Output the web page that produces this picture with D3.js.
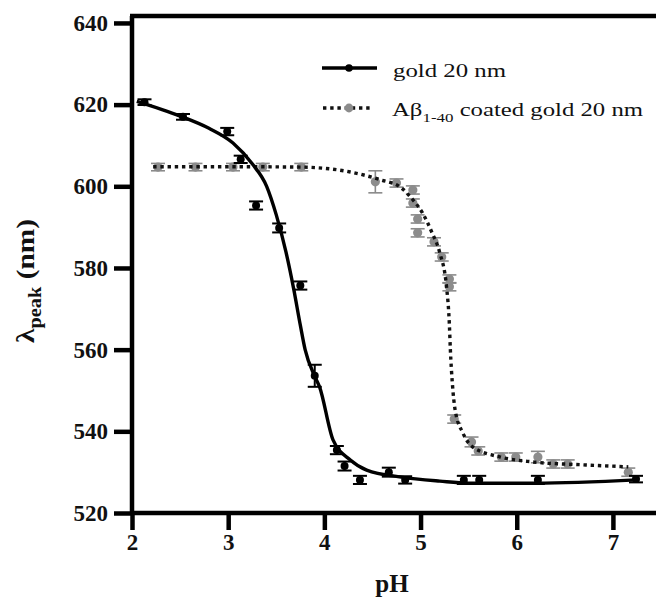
<!DOCTYPE html>
<html>
<head>
<meta charset="utf-8">
<script src="https://cdn.jsdelivr.net/npm/d3@7"></script>
<style>
  body { margin: 0; background: #fff; }
  svg { display: block; }
</style>
</head>
<body>
<svg width="656" height="598"></svg>
<script>
// gold 20 nm - measured points
var goldPH  = [2.13, 2.53, 2.99, 3.13, 3.29, 3.53, 3.75, 3.90, 4.13, 4.21, 4.37, 4.67, 4.84, 5.45, 5.61, 6.22, 7.24];
var goldNM  = [620.6, 617.0, 613.4, 606.6, 595.3, 589.8, 575.7, 553.6, 535.4, 531.5, 528.1, 530.0, 528.1, 528.1, 528.1, 528.1, 528.3];
var goldErr = [0.7, 0.7, 0.9, 0.9, 1.0, 1.1, 1.0, 2.7, 1.0, 1.1, 1.0, 1.1, 0.9, 1.0, 1.0, 1.0, 0.8];

// Abeta 1-40 coated gold 20 nm - measured points
var abPH  = [2.27, 2.66, 3.05, 3.36, 3.76, 4.53, 4.75, 4.92, 4.92, 4.97, 4.97, 5.14, 5.22, 5.30, 5.30, 5.35, 5.53, 5.60, 5.84, 5.99, 6.22, 6.38, 6.53, 7.16];
var abNM  = [604.7, 604.7, 604.7, 604.7, 604.7, 601.1, 600.8, 599.1, 595.9, 592.0, 588.6, 586.4, 582.7, 577.3, 575.4, 543.0, 537.4, 535.2, 533.7, 533.7, 533.7, 532.0, 532.0, 530.0];
var abErr = [0.9, 0.9, 0.9, 0.9, 0.9, 2.7, 1.0, 1.0, 1.0, 1.0, 1.0, 1.0, 1.0, 1.0, 1.0, 1.0, 1.2, 1.0, 1.0, 1.0, 1.4, 1.0, 1.0, 1.0];

// fitted curves
var goldFitPH = [2.05, 2.5, 2.8, 3.05, 3.25, 3.4, 3.5, 3.6, 3.68, 3.75, 3.8, 3.9, 3.95, 4.09, 4.27, 4.44, 4.8, 5.2, 5.5, 6.2, 7.25];
var goldFitNM = [620.8, 617.2, 614.2, 610.6, 605.5, 600, 593, 584, 575, 566, 560, 553.5, 550.9, 537.9, 533, 530.5, 528.8, 527.8, 527.3, 527.3, 528.1];
var abFitPH = [2.22, 3.0, 3.75, 4.27, 4.58, 4.79, 4.92, 5.02, 5.12, 5.2, 5.27, 5.3, 5.31, 5.33, 5.36, 5.44, 5.54, 5.83, 6.17, 6.69, 7.16];
var abFitNM = [604.8, 604.8, 604.7, 603.5, 601.6, 599.8, 596.7, 593.5, 588.6, 583.7, 575.4, 566, 560, 552, 545.2, 539.6, 536.2, 533.7, 532.5, 531.8, 531.3];

var xTicks = [2, 3, 4, 5, 6, 7];
var yTicks = [520, 540, 560, 580, 600, 620, 640];

var serif = "Liberation Serif";

var svg = d3.select("svg");

var x = d3.scaleLinear().domain([2, 7.5]).range([132, 661]);
var y = d3.scaleLinear().domain([520, 641.7]).range([513, 16]);

var zip = function(a, b, e) {
  return a.map(function(v, i) { return {x: v, y: b[i], e: e ? e[i] : 0}; });
};
var gold = zip(goldPH, goldNM, goldErr);
var ab = zip(abPH, abNM, abErr);

var line = d3.line()
  .x(function(d) { return x(d.x); })
  .y(function(d) { return y(d.y); })
  .curve(d3.curveMonotoneX);

// axes
var xAxis = svg.append("g")
  .attr("transform", "translate(0," + y(520) + ")")
  .call(d3.axisBottom(x).tickValues(xTicks).tickSize(17).tickPadding(4).tickFormat(d3.format("d")));
var yAxis = svg.append("g")
  .attr("transform", "translate(" + x(2) + ",0)")
  .call(d3.axisLeft(y).tickValues(yTicks).tickSize(18).tickPadding(6).tickFormat(d3.format("d")));

[xAxis, yAxis].forEach(function(g) {
  g.attr("font-family", serif);
  g.select(".domain").attr("stroke", "#000").attr("stroke-width", 4.5);
  g.selectAll(".tick line").attr("stroke", "#000").attr("stroke-width", 4.5);
  g.selectAll(".tick text")
    .attr("fill", "#111")
    .attr("font-family", serif)
    .attr("font-weight", "bold")
    .attr("font-size", 23);
});
xAxis.select(".domain").attr("d", "M" + x(2) + ",0H" + x(7.5));
yAxis.select(".domain").attr("d", "M0," + y(520) + "V" + y(641.7));

// top frame line
svg.append("line")
  .attr("x1", x(2) - 2).attr("x2", x(7.5))
  .attr("y1", y(641.7)).attr("y2", y(641.7))
  .attr("stroke", "#000").attr("stroke-width", 4.5);

function errorBars(data, color, width) {
  var g = svg.append("g").attr("stroke", color).attr("stroke-width", width);
  g.selectAll(".v").data(data).enter().append("line")
    .attr("x1", function(d) { return x(d.x); })
    .attr("x2", function(d) { return x(d.x); })
    .attr("y1", function(d) { return y(d.y - d.e); })
    .attr("y2", function(d) { return y(d.y + d.e); });
  g.selectAll(".t").data(data).enter().append("line")
    .attr("x1", function(d) { return x(d.x) - 7; })
    .attr("x2", function(d) { return x(d.x) + 7; })
    .attr("y1", function(d) { return y(d.y + d.e); })
    .attr("y2", function(d) { return y(d.y + d.e); });
  g.selectAll(".b").data(data).enter().append("line")
    .attr("x1", function(d) { return x(d.x) - 7; })
    .attr("x2", function(d) { return x(d.x) + 7; })
    .attr("y1", function(d) { return y(d.y - d.e); })
    .attr("y2", function(d) { return y(d.y - d.e); });
}

// grey series under the curves
errorBars(ab, "#8a8a8a", 1.6);
svg.append("g").selectAll("circle")
  .data(ab)
  .enter().append("circle")
  .attr("cx", function(d) { return x(d.x); })
  .attr("cy", function(d) { return y(d.y); })
  .attr("r", 4.6)
  .attr("fill", "#8c8c8c");

svg.append("path")
  .datum(zip(abFitPH, abFitNM))
  .attr("d", line)
  .attr("fill", "none")
  .attr("stroke", "#111")
  .attr("stroke-width", 3.4)
  .attr("stroke-dasharray", "3.4,3.8");

svg.append("path")
  .datum(zip(goldFitPH, goldFitNM))
  .attr("d", line)
  .attr("fill", "none")
  .attr("stroke", "#000")
  .attr("stroke-width", 3.4);

errorBars(gold, "#000", 2);
svg.append("g").selectAll("circle")
  .data(gold)
  .enter().append("circle")
  .attr("cx", function(d) { return x(d.x); })
  .attr("cy", function(d) { return y(d.y); })
  .attr("r", 4)
  .attr("fill", "#000");

// legend
var leg = svg.append("g").attr("font-family", serif);
leg.append("line").attr("x1", 322).attr("x2", 377).attr("y1", 68).attr("y2", 68)
  .attr("stroke", "#000").attr("stroke-width", 3.4);
leg.append("circle").attr("cx", 349).attr("cy", 68).attr("r", 3.8).attr("fill", "#000");
leg.append("text").attr("x", 393).attr("y", 77)
  .attr("textLength", 113).attr("lengthAdjust", "spacingAndGlyphs")
  .attr("font-family", serif)
  .attr("font-size", 19).attr("fill", "#111")
  .text("gold 20 nm");

leg.append("line").attr("x1", 323).attr("x2", 372).attr("y1", 108).attr("y2", 108)
  .attr("stroke", "#111").attr("stroke-width", 3.4).attr("stroke-dasharray", "3.4,3.8");
leg.append("circle").attr("cx", 349).attr("cy", 108).attr("r", 4.4).attr("fill", "#8c8c8c");
var t2 = leg.append("text").attr("x", 392).attr("y", 116)
  .attr("textLength", 251).attr("lengthAdjust", "spacingAndGlyphs")
  .attr("font-family", serif)
  .attr("font-size", 19).attr("fill", "#111");
t2.append("tspan").text("Aβ");
t2.append("tspan").attr("dy", 6).attr("font-size", 13).text("1-40");
t2.append("tspan").attr("dy", -6).text(" coated gold 20 nm");

// axis titles
svg.append("text")
  .attr("x", 392).attr("y", 592)
  .attr("text-anchor", "middle")
  .attr("font-family", serif)
  .attr("font-size", 25).attr("font-weight", "bold").attr("fill", "#111")
  .text("pH");

var yl = svg.append("text")
  .attr("transform", "translate(34,281) rotate(-90)")
  .attr("text-anchor", "middle")
  .attr("textLength", 124).attr("lengthAdjust", "spacingAndGlyphs")
  .attr("font-family", serif)
  .attr("font-size", 26).attr("font-weight", "bold").attr("fill", "#111");
yl.append("tspan").text("λ");
yl.append("tspan").attr("dy", 7).attr("font-size", 18).text("peak");
yl.append("tspan").attr("dy", -7).text(" (nm)");
</script>
</body>
</html>
